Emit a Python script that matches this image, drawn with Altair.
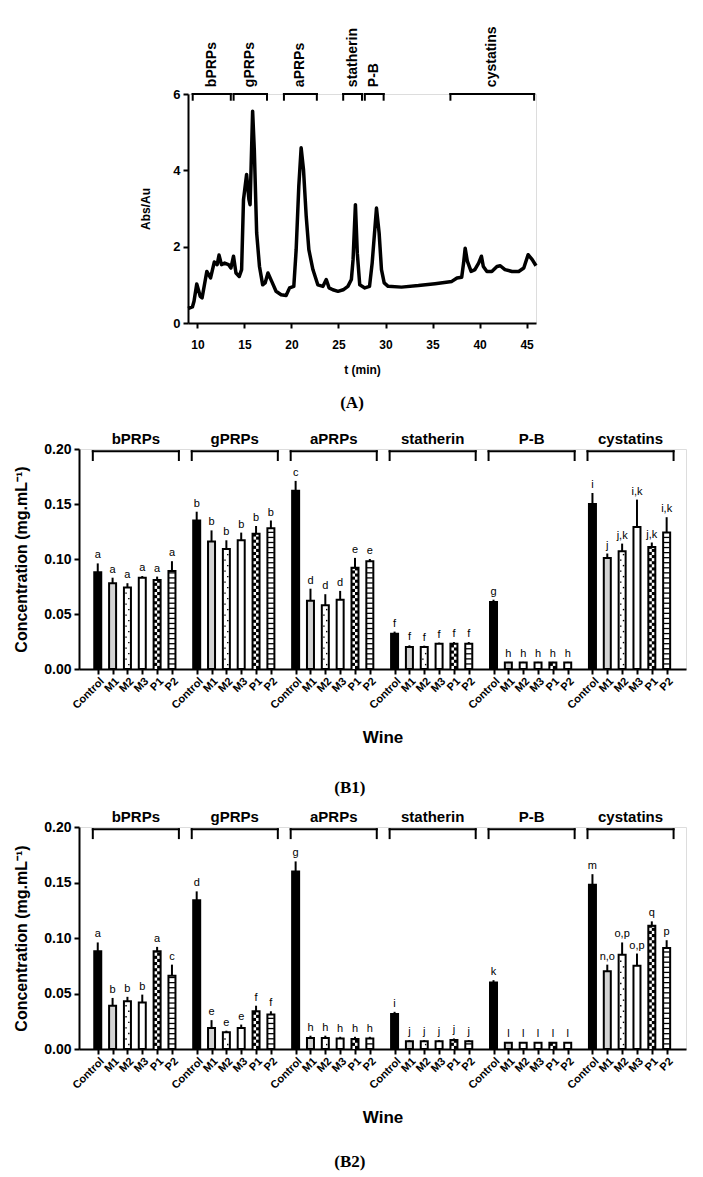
import altair as alt
import pandas as pd

FONT = "Liberation Sans"
SERIF = "Liberation Serif"

# ---------------- Panel A : chromatogram ----------------
t_min = [9.0, 9.47, 9.64, 9.93, 10.3, 10.5, 11.0, 11.4, 11.8, 12.1, 12.3, 12.56, 12.9, 13.3,
         13.56, 13.84, 14.1, 14.45, 14.7, 14.9, 15.23, 15.48, 15.6, 15.87, 16.05, 16.3, 16.6,
         16.94, 17.2, 17.5, 17.9, 18.36, 18.9, 19.43, 19.8, 20.25, 20.5, 20.78, 21.03, 21.28,
         21.57, 21.85, 22.28, 22.8, 23.35, 23.7, 24.0, 24.4, 24.95, 25.5, 26.0, 26.37, 26.55,
         26.8, 27.0, 27.26, 27.8, 28.3, 28.58, 29.04, 29.32, 29.57, 29.86, 30.28, 31.7, 33.5,
         35.27, 37.05, 37.6, 38.1, 38.3, 38.47, 38.7, 39.1, 39.5, 39.9, 40.2, 40.4, 40.78, 41.3,
         41.85, 42.2, 42.7, 43.45, 44.16, 44.7, 45.16, 45.6, 46.0]
absorbance = [0.38, 0.42, 0.57, 1.02, 0.7, 0.66, 1.35, 1.18, 1.6, 1.53, 1.78, 1.53, 1.57, 1.53,
              1.44, 1.75, 1.31, 1.22, 1.4, 3.23, 3.89, 3.23, 3.1, 5.55, 4.54, 2.36, 1.48,
              1.0, 1.05, 1.31, 1.09, 0.83, 0.74, 0.72, 0.92, 0.96, 1.92, 3.58, 4.59, 4.02,
              2.79, 1.92, 1.4, 1.0, 0.96, 1.14, 0.92, 0.87, 0.83, 0.87, 0.96, 1.14, 1.66,
              3.1, 1.83, 1.0, 0.92, 0.96, 1.57, 3.01, 2.36, 1.4, 1.05, 0.96, 0.94, 0.98,
              1.03, 1.09, 1.18, 1.2, 1.57, 1.96, 1.62, 1.35, 1.4, 1.57, 1.75, 1.48, 1.35, 1.35,
              1.48, 1.5, 1.4, 1.35, 1.35, 1.44, 1.79, 1.66, 1.5]
region_names = ["bPRPs", "gPRPs", "aPRPs", "statherin", "P-B", "cystatins"]
region_start = [9.5, 13.85, 19.2, 25.5, 27.8, 36.9]
region_end = [13.55, 17.4, 22.7, 27.5, 29.8, 45.8]
a_ticks_x = [10, 15, 20, 25, 30, 35, 40, 45]
a_ticks_y = [0, 2, 4, 6]

# ---------------- Panels B1 / B2 : bar charts ----------------
groups = ["bPRPs", "gPRPs", "aPRPs", "statherin", "P-B", "cystatins"]
wines = ["Control", "M1", "M2", "M3", "P1", "P2"]
b_ticks_y = [0.0, 0.05, 0.10, 0.15, 0.20]

b1_mean = [
    [0.088, 0.078, 0.074, 0.083, 0.081, 0.089],
    [0.135, 0.116, 0.109, 0.117, 0.123, 0.128],
    [0.162, 0.062, 0.058, 0.063, 0.092, 0.098],
    [0.032, 0.020, 0.020, 0.023, 0.023, 0.023],
    [0.061, 0.006, 0.006, 0.006, 0.006, 0.006],
    [0.150, 0.101, 0.107, 0.129, 0.111, 0.124],
]
b1_sd = [
    [0.008, 0.005, 0.004, 0.0015, 0.003, 0.009],
    [0.008, 0.010, 0.008, 0.007, 0.007, 0.007],
    [0.009, 0.011, 0.010, 0.008, 0.009, 0.002],
    [0.002, 0.0015, 0.0012, 0.001, 0.0015, 0.0015],
    [0.002, 0.0005, 0.0005, 0.0005, 0.0005, 0.0005],
    [0.010, 0.004, 0.007, 0.025, 0.004, 0.014],
]
b1_letters = [
    ["a", "a", "a", "a", "a", "a"],
    ["b", "b", "b", "b", "b", "b"],
    ["c", "d", "d", "d", "e", "e"],
    ["f", "f", "f", "f", "f", "f"],
    ["g", "h", "h", "h", "h", "h"],
    ["i", "j", "j,k", "i,k", "j,k", "i,k"],
]

b2_mean = [
    [0.088, 0.039, 0.043, 0.042, 0.088, 0.066],
    [0.134, 0.019, 0.015, 0.019, 0.034, 0.031],
    [0.160, 0.010, 0.010, 0.0095, 0.009, 0.0095],
    [0.0315, 0.007, 0.007, 0.007, 0.008, 0.007],
    [0.060, 0.0057, 0.0057, 0.0057, 0.0057, 0.0057],
    [0.148, 0.070, 0.085, 0.075, 0.111, 0.091],
]
b2_sd = [
    [0.008, 0.007, 0.004, 0.007, 0.004, 0.010],
    [0.008, 0.007, 0.0015, 0.003, 0.005, 0.003],
    [0.009, 0.002, 0.002, 0.0015, 0.002, 0.0015],
    [0.002, 0.001, 0.001, 0.001, 0.0015, 0.001],
    [0.002, 0.0004, 0.0004, 0.0004, 0.0004, 0.0004],
    [0.0095, 0.006, 0.011, 0.011, 0.004, 0.007],
]
b2_letters = [
    ["a", "b", "b", "b", "a", "c"],
    ["d", "e", "e", "e", "f", "f"],
    ["g", "h", "h", "h", "h", "h"],
    ["i", "j", "j", "j", "j", "j"],
    ["k", "l", "l", "l", "l", "l"],
    ["m", "n,o", "o,p", "o,p", "q", "p"],
]

axis_common = dict(domainColor="black", domainWidth=2, tickColor="black", tickWidth=2,
                   tickSize=5, labelColor="black", labelFont=FONT, labelFontWeight="bold",
                   titleFont=FONT, titleFontWeight="bold", titleColor="black", grid=False,
                   labelFlush=False, labelOverlap=False)


# ---------------- Panel A chart ----------------
def ax_a_x(field):
    return alt.X(field, type="quantitative",
                 scale=alt.Scale(domain=[9, 46], nice=False, zero=False),
                 axis=alt.Axis(values=a_ticks_x, title="t (min)", labelFontSize=12,
                               titleFontSize=12, labelPadding=11, titlePadding=14, **axis_common))


def ax_a_y(field):
    return alt.Y(field, type="quantitative",
                 scale=alt.Scale(domain=[0, 6], nice=False, zero=True),
                 axis=alt.Axis(values=a_ticks_y, title="Abs/Au", labelFontSize=13,
                               titleFontSize=12, labelPadding=3, titlePadding=20, **axis_common))


dfA = pd.DataFrame({"t": t_min, "a": absorbance})
brA = pd.DataFrame({"name": region_names, "start": region_start, "end": region_end})
brA["mid"] = (brA["start"] + brA["end"]) / 2
brA["top"] = 6.0
brA["low"] = 5.85
brA["lab"] = 6.18
legA = pd.DataFrame({"x": region_start + region_end})
legA["top"] = 6.0
legA["low"] = 5.85

lineA = alt.Chart(dfA).mark_line(color="black", strokeWidth=3.5, strokeJoin="round").encode(
    x=ax_a_x("t"), y=ax_a_y("a"))
hbrA = alt.Chart(brA).mark_rule(color="black", strokeWidth=2, strokeCap="square").encode(
    x=ax_a_x("start"), x2="end", y=ax_a_y("top"))
vlegA = alt.Chart(legA).mark_rule(color="black", strokeWidth=2, strokeCap="square").encode(
    x=ax_a_x("x"), y=ax_a_y("top"), y2="low")
labA = alt.Chart(brA).mark_text(angle=270, align="left", baseline="middle", font=FONT,
                                fontWeight="bold", fontSize=14, color="black").encode(
    x=ax_a_x("mid"), y=ax_a_y("lab"), text="name")

chartA = alt.layer(lineA, hbrA, vlegA, labA).properties(
    width=348, height=229,
    title=alt.TitleParams("(A)", orient="bottom", anchor="middle", frame="group", dx=-10,
                          font=SERIF, fontSize=17, fontWeight="bold", color="black", offset=20))

spacer = alt.Chart(pd.DataFrame({"s": [0]})).mark_point(opacity=0).properties(width=60, height=229)
topRow = alt.hconcat(spacer, chartA, spacing=0)


# ---------------- Panel B charts ----------------
label_expr = "[" + ",".join("'%s'" % w for w in wines) + "][(datum.value % 20) / 3]"


def panel_b(means, sds, letters, height, caption, cap_offset):
    rows, dots, cells, stripes, brs, legs = [], [], [], [], [], []
    for g, grp in enumerate(groups):
        base = g * 20
        brs.append(dict(name=grp, start=base - 1.0, end=base + 16.4, mid=base + 7.7, top=0.198))
        legs.append(dict(x=base - 1.0, top=0.198, low=0.190))
        legs.append(dict(x=base + 16.4, top=0.198, low=0.190))
        for i, w in enumerate(wines):
            pos = base + i * 3
            m = means[g][i]
            s = sds[g][i]
            rows.append(dict(pos=pos, wine=w, mean=m, tip=m + s, letter=letters[g][i]))
            if w == "M2":
                k, yv = 0, 0.004
                while yv < m - 0.002:
                    dots.append(dict(x=pos + (0.28 if k % 2 == 0 else -0.28), y=yv))
                    k += 1
                    yv += 0.005
            if w == "P1":
                k, y0, step = 0, 0.0, 0.0028
                while y0 < m - 0.001:
                    y1 = min(y0 + step, m - 0.001)
                    cells.append(dict(x0=pos - 0.5 + 0.5 * (k % 2), x1=pos + 0.5 * (k % 2),
                                      y0=y0, y1=y1))
                    k += 1
                    y0 += step
            if w == "P2":
                yv = 0.0046
                while yv < m - 0.0015:
                    stripes.append(dict(x0=pos - 0.6, x1=pos + 0.6, y=yv))
                    yv += 0.0046
    df = pd.DataFrame(rows)
    tick_vals = [float(v) for v in df["pos"]]

    def bx(field):
        return alt.X(field, type="quantitative",
                     scale=alt.Scale(domain=[-2.78, 117.9], nice=False, zero=False),
                     axis=alt.Axis(values=tick_vals, labelExpr=label_expr, labelAngle=-45,
                                   labelAlign="right", labelBaseline="top", labelFontSize=11,
                                   labelPadding=1, title="Wine", titleFontSize=17,
                                   titlePadding=19, **axis_common))

    def by(field):
        return alt.Y(field, type="quantitative",
                     scale=alt.Scale(domain=[0, 0.2], nice=False, zero=True),
                     axis=alt.Axis(values=b_ticks_y, format=".2f",
                                   title="Concentration (mg.mL\u207b\u00b9)", labelFontSize=14,
                                   titleFontSize=16, labelPadding=3, titlePadding=14,
                                   **axis_common))

    bars = alt.Chart(df).mark_bar(size=7, stroke="black", strokeWidth=2).encode(
        x=bx("pos"), y=by("mean"),
        fill=alt.Fill("wine:N", scale=alt.Scale(domain=wines,
                      range=["black", "#d3d3d3", "white", "white", "black", "white"]), legend=None))
    dotL = alt.Chart(pd.DataFrame(dots)).mark_square(size=2, color="black", opacity=1).encode(
        x=bx("x"), y=by("y"))
    cellL = alt.Chart(pd.DataFrame(cells)).mark_rect(color="white").encode(
        x=bx("x0"), x2="x1", y=by("y0"), y2="y1")
    stripeL = alt.Chart(pd.DataFrame(stripes)).mark_rule(color="black", strokeWidth=1.3).encode(
        x=bx("x0"), x2="x1", y=by("y"))
    err = alt.Chart(df).mark_rule(color="black", strokeWidth=2).encode(
        x=bx("pos"), y=by("mean"), y2="tip")
    let = alt.Chart(df).mark_text(baseline="bottom", dy=-3, fontSize=11, font=FONT,
                                  fill="black").encode(x=bx("pos"), y=by("tip"), text="letter")
    dfb = pd.DataFrame(brs)
    hbr = alt.Chart(dfb).mark_rule(color="black", strokeWidth=2, strokeCap="square").encode(
        x=bx("start"), x2="end", y=by("top"))
    vleg = alt.Chart(pd.DataFrame(legs)).mark_rule(color="black", strokeWidth=2,
                                                   strokeCap="square").encode(
        x=bx("x"), y=by("top"), y2="low")
    glab = alt.Chart(dfb).mark_text(baseline="bottom", dy=-4, fontSize=15, fontWeight="bold",
                                    font=FONT, color="black").encode(
        x=bx("mid"), y=by("top"), text="name")
    return alt.layer(bars, cellL, stripeL, dotL, err, let, hbr, vleg, glab).properties(
        width=607, height=height,
        title=alt.TitleParams(caption, orient="bottom", anchor="middle", frame="bounds",
                              font=SERIF, fontSize=17, fontWeight="bold", color="black",
                              offset=cap_offset))


chartB1 = panel_b(b1_mean, b1_sd, b1_letters, 220, "(B1)", 35)
chartB2 = panel_b(b2_mean, b2_sd, b2_letters, 222, "(B2)", 29)

chart = alt.vconcat(alt.vconcat(topRow, chartB1, spacing=19), chartB2, spacing=12).properties(
    padding={"top": 17, "left": 5, "right": 0, "bottom": 5}).configure_view(
    stroke=None).configure(font=FONT)

chart.save("out.html", embed_options={"renderer": "svg", "actions": False})
